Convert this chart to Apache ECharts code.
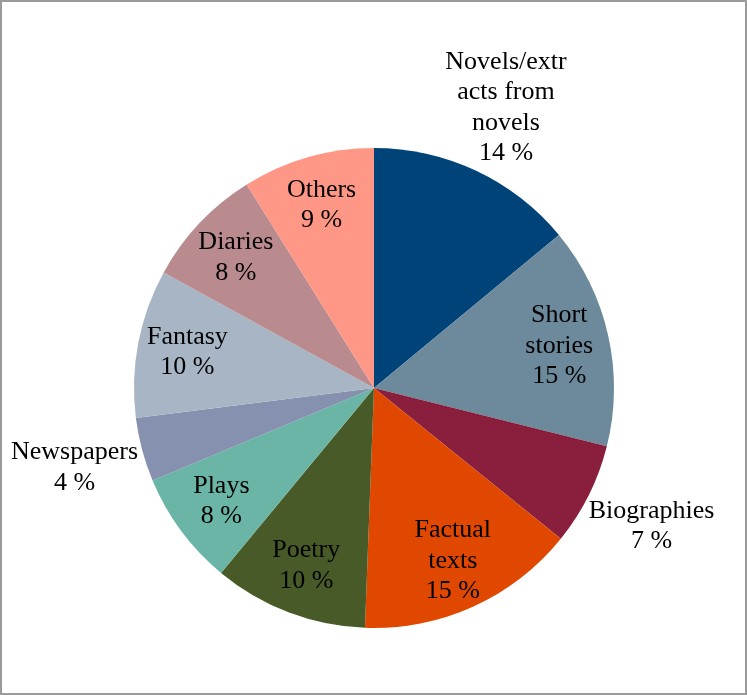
<!DOCTYPE html>
<html>
<head>
<meta charset="utf-8">
<script src="https://cdn.jsdelivr.net/npm/echarts@6/dist/echarts.min.js"></script>
<style>
html,body{margin:0;padding:0;background:#fff;}
#chart{width:747px;height:695px;box-sizing:border-box;border:2px solid #9a9a9a;}
</style>
</head>
<body>
<div id="chart"></div>
<script>
var categories = ["Novels/extracts from novels","Short stories","Biographies","Factual texts","Poetry","Plays","Newspapers","Fantasy","Diaries","Others"];
var labelNames = ["Novels/extr\nacts from\nnovels","Short\nstories","Biographies","Factual\ntexts","Poetry","Plays","Newspapers","Fantasy","Diaries","Others"];
var values = [14.0, 14.9, 6.9, 14.8, 10.4, 7.7, 4.3, 10.0, 8.1, 8.9];
var colors = ["#004379","#6c8a9c","#8a1e3d","#e04800","#485a27","#6ab5a5","#8690af","#a7b5c4","#b98a8e","#ff9786"];
var outsideLabel = [true,false,true,false,false,false,true,false,false,false];

var chart = echarts.init(document.getElementById('chart'));
var font = {fontFamily:'"Liberation Serif","DejaVu Serif",serif', fontSize:26, lineHeight:30.5, color:'#000'};
function fmt(p){ return labelNames[p.dataIndex] + '\n' + Math.round(p.percent) + ' %'; }

function makeData(mode){
  return values.map(function(v,i){
    var d = {name: categories[i], value: v};
    if (mode === 'main') {
      d.itemStyle = {color: colors[i]};
    } else {
      var show = (mode === 'outer') ? outsideLabel[i] : !outsideLabel[i];
      d.label = {show: show};
    }
    return d;
  });
}

var center = [372, 386];
chart.setOption({
  animation:false,
  series:[
    {type:'pie', center:center, radius:[0,240], startAngle:90, clockwise:true,
     label:{show:false}, labelLine:{show:false}, silent:true,
     itemStyle:{borderWidth:0}, data:makeData('main')},
    {type:'pie', center:center, radius:[134,240], startAngle:90, clockwise:true,
     itemStyle:{color:'rgba(0,0,0,0)', borderWidth:0}, silent:true,
     label:Object.assign({position:'inside', formatter:fmt}, font),
     labelLine:{show:false}, data:makeData('inner')},
    {type:'pie', center:center, radius:[282,332], startAngle:90, clockwise:true,
     itemStyle:{color:'rgba(0,0,0,0)', borderWidth:0}, silent:true,
     label:Object.assign({position:'inside', formatter:fmt}, font),
     labelLine:{show:false}, data:makeData('outer')}
  ]
});
</script>
</body>
</html>
